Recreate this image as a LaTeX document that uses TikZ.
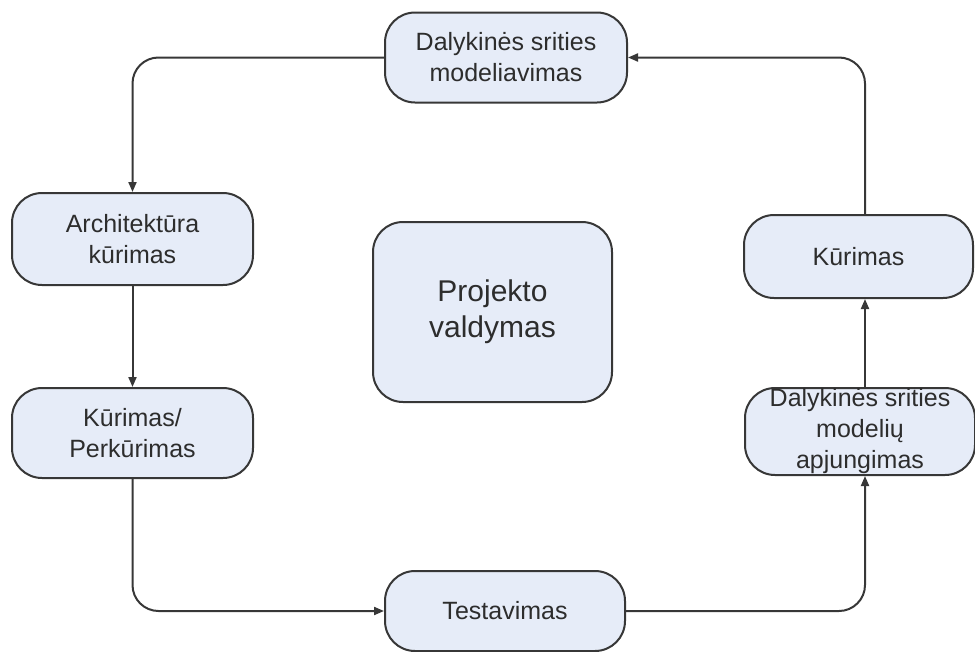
\documentclass[tikz,border=0pt]{standalone}
\usepackage{fontspec}
\setmainfont{Liberation Sans}
\usetikzlibrary{arrows.meta}
\definecolor{boxfill}{RGB}{230,236,248}
\definecolor{boxline}{RGB}{55,55,55}
\definecolor{txt}{RGB}{45,45,45}
\begin{document}
\begin{tikzpicture}[x=1pt,y=-1pt,
  stage/.style={draw=boxline, line width=2pt, fill=boxfill, rounded corners=30pt,
    align=center, inner sep=0pt, text=txt,
    font=\fontsize{25}{31}\selectfont},
  conn/.style={draw=boxline, line width=2pt, rounded corners=26pt,
    -{Triangle[length=10pt,width=8pt]}}]
\useasboundingbox (0,0) rectangle (975,651);

% process stages
\node[stage, minimum width=242pt, minimum height=90pt] (dsm) at (506,57.5)
  {Dalykinės srities\\modeliavimas};
\node[stage, minimum width=241pt, minimum height=92pt] (arch) at (132.5,239)
  {Architektūra\\kūrimas};
\node[stage, minimum width=241pt, minimum height=90pt] (perk) at (132.5,433)
  {Kūrimas/\\Perkūrimas};
\node[stage, minimum width=240pt, minimum height=80pt] (test) at (505,611)
  {Testavimas};
\node[stage, minimum width=230pt, minimum height=87pt] (apj) at (860,431.5)
  {Dalykinės srities\\modelių\\apjungimas};
\node[stage, minimum width=229pt, minimum height=83pt] (kur) at (858.5,256.5)
  {Kūrimas};

% central management block
\node[stage, minimum width=239pt, minimum height=180pt,
  font=\fontsize{30}{36}\selectfont] (pv) at (492.5,312)
  {Projekto\\valdymas};

% right-hand vertical rail
\coordinate (rx) at (865,0);

% cycle connectors
\draw[conn] (dsm.west) -| (arch.north);
\draw[conn] (arch.south) -- (perk.north);
\draw[conn] (perk.south) |- (test.west);
\draw[conn] (test.east) -| (apj.south -| rx);
\draw[conn] (apj.north -| rx) -- (kur.south -| rx);
\draw[conn] (kur.north -| rx) |- (dsm.east);
\end{tikzpicture}
\end{document}
